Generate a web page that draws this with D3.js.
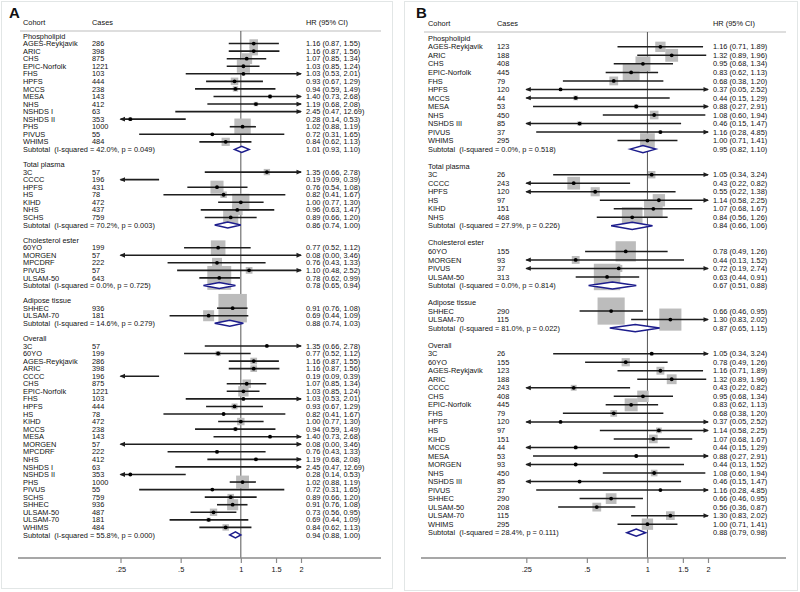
<!DOCTYPE html>
<html>
<head>
<meta charset="utf-8">
<script src="https://cdn.jsdelivr.net/npm/d3@7"></script>
<style>
  html, body { margin: 0; padding: 0; background: #fff; }
  svg { display: block; }
  text { font-family: "Liberation Sans", Arial, sans-serif; fill: #111; }
</style>
</head>
<body>
<svg id="chart" width="800" height="592"></svg>
<script>
// ---------------- DATA ----------------
const headers = ["Cohort", "Cases", "HR (95% CI)"];
const tickValues = [0.25, 0.5, 1, 1.5, 2];
const tickLabels = [".25", ".5", "1", "1.5", "2"];

// Panel A
const aGroupNames = ["Phospholipid", "Total plasma", "Cholesterol ester", "Adipose tissue", "Overall"];
const aGroupSizes = [14, 7, 5, 2, 25];
const aCohorts = [
  "AGES-Reykjavik","ARIC","CHS","EPIC-Norfolk","FHS","HPFS","MCCS","MESA","NHS","NSHDS I","NSHDS II","PHS","PIVUS","WHIMS",
  "3C","CCCC","HPFS","HS","KIHD","NHS","SCHS",
  "60YO","MORGEN","MPCDRF","PIVUS","ULSAM-50",
  "SHHEC","ULSAM-70",
  "3C","60YO","AGES-Reykjavik","ARIC","CCCC","CHS","EPIC-Norfolk","FHS","HPFS","HS","KIHD","MCCS","MESA","MORGEN","MPCDRF","NHS","NSHDS I","NSHDS II","PHS","PIVUS","SCHS","SHHEC","ULSAM-50","ULSAM-70","WHIMS"];
const aCases = [
  286,398,875,1221,103,444,238,143,412,63,353,1000,55,484,
  57,196,431,78,472,437,759,
  199,57,222,57,643,
  936,181,
  57,199,286,398,196,875,1221,103,444,78,472,238,143,57,222,412,63,353,1000,55,759,936,487,181,484];
const aHR = [
  1.16,1.16,1.07,1.03,1.03,0.93,0.94,1.40,1.19,2.45,0.28,1.02,0.72,0.84,
  1.35,0.19,0.76,0.82,1.00,0.96,0.89,
  0.77,0.08,0.76,1.10,0.78,
  0.91,0.69,
  1.35,0.77,1.16,1.16,0.19,1.07,1.03,1.03,0.93,0.82,1.00,0.94,1.40,0.08,0.76,1.19,2.45,0.28,1.02,0.72,0.89,0.91,0.73,0.69,0.84];
const aLower = [
  0.87,0.87,0.85,0.85,0.53,0.67,0.59,0.73,0.68,0.47,0.14,0.88,0.31,0.62,
  0.66,0.09,0.54,0.41,0.77,0.63,0.66,
  0.52,0.00,0.43,0.48,0.62,
  0.76,0.44,
  0.66,0.52,0.87,0.87,0.09,0.85,0.85,0.53,0.67,0.41,0.77,0.59,0.73,0.00,0.43,0.68,0.47,0.14,0.88,0.31,0.66,0.76,0.56,0.44,0.62];
const aUpper = [
  1.55,1.56,1.34,1.24,2.01,1.29,1.49,2.68,2.08,12.69,0.53,1.19,1.65,1.13,
  2.78,0.39,1.08,1.67,1.30,1.47,1.20,
  1.12,3.46,1.33,2.52,0.99,
  1.08,1.09,
  2.78,1.12,1.55,1.56,0.39,1.34,1.24,2.01,1.29,1.67,1.30,1.49,2.68,3.46,1.33,2.08,12.69,0.53,1.19,1.65,1.20,1.08,0.95,1.09,1.13];
const aWeight = [
  7.9,7.7,12.7,18.5,1.5,6.1,3.1,1.6,2.1,0.2,1.5,28.9,0.9,7.3,
  4.3,4.1,18.3,4.5,32.0,12.2,24.6,
  22.9,0.1,10.6,4.9,61.5,
  87,13,
  0.8,2.8,4.9,4.8,0.8,7.9,11.4,0.9,3.8,0.8,5.9,1.9,1.0,0.01,1.3,1.3,0.1,0.9,17.9,0.6,4.6,13.2,5.8,2.0,4.5];
const aSubI2 = ["42.0%", "70.2%", "0.0%", "14.6%", "55.8%"];
const aSubP = ["0.049", "0.003", "0.725", "0.279", "0.000"];
const aSubHR = [1.01, 0.86, 0.78, 0.88, 0.94];
const aSubLower = [0.93, 0.74, 0.65, 0.74, 0.88];
const aSubUpper = [1.10, 1.00, 0.94, 1.03, 1.00];

// Panel B
const bGroupNames = ["Phospholipid", "Total plasma", "Cholesterol ester", "Adipose tissue", "Overall"];
const bGroupSizes = [12, 6, 4, 2, 21];
const bCohorts = [
  "AGES-Reykjavik","ARIC","CHS","EPIC-Norfolk","FHS","HPFS","MCCS","MESA","NHS","NSHDS III","PIVUS","WHIMS",
  "3C","CCCC","HPFS","HS","KIHD","NHS",
  "60YO","MORGEN","PIVUS","ULSAM-50",
  "SHHEC","ULSAM-70",
  "3C","60YO","AGES-Reykjavik","ARIC","CCCC","CHS","EPIC-Norfolk","FHS","HPFS","HS","KIHD","MCCS","MESA","MORGEN","NHS","NSHDS III","PIVUS","SHHEC","ULSAM-50","ULSAM-70","WHIMS"];
const bCases = [
  123,188,408,445,79,120,44,53,450,85,37,295,
  26,243,120,97,151,468,
  155,93,37,313,
  290,115,
  26,155,123,188,243,408,445,79,120,97,151,44,53,93,450,85,37,290,208,115,295];
const bHR = [
  1.16,1.32,0.95,0.83,0.68,0.37,0.44,0.88,1.08,0.46,1.16,1.00,
  1.05,0.43,0.55,1.14,1.07,0.84,
  0.78,0.44,0.72,0.63,
  0.66,1.30,
  1.05,0.78,1.16,1.32,0.43,0.95,0.83,0.68,0.37,1.14,1.07,0.44,0.88,0.44,1.08,0.46,1.16,0.66,0.56,1.30,1.00];
const bLower = [
  0.71,0.89,0.68,0.62,0.38,0.05,0.15,0.27,0.60,0.15,0.28,0.71,
  0.34,0.22,0.22,0.58,0.68,0.56,
  0.49,0.13,0.19,0.44,
  0.46,0.83,
  0.34,0.49,0.71,0.89,0.22,0.68,0.62,0.38,0.05,0.58,0.68,0.15,0.27,0.13,0.60,0.15,0.28,0.46,0.36,0.83,0.71];
const bUpper = [
  1.89,1.96,1.34,1.13,1.20,2.52,1.29,2.91,1.94,1.47,4.85,1.41,
  3.24,0.82,1.38,2.25,1.67,1.26,
  1.26,1.52,2.74,0.91,
  0.95,2.02,
  3.24,1.26,1.89,1.96,0.82,1.34,1.13,1.20,2.52,2.25,1.67,1.29,2.91,1.52,1.94,1.47,4.85,0.95,0.87,2.02,1.41];
const bWeight = [
  8.7,13.4,18.2,23.2,6.3,0.5,1.8,1.5,6.1,1.6,1.0,17.7,
  4.5,13.2,6.8,12.4,28.3,34.8,
  33.7,5.0,4.2,57.1,
  60.1,39.9,
  1.0,5.5,5.1,7.9,2.8,10.7,13.7,3.7,0.3,2.7,6.1,1.1,0.9,0.8,3.6,0.9,0.6,9.4,6.3,6.2,10.5];
const bSubI2 = ["0.0%", "27.9%", "0.0%", "81.0%", "28.4%"];
const bSubP = ["0.518", "0.226", "0.814", "0.022", "0.111"];
const bSubHR = [0.95, 0.84, 0.67, 0.87, 0.88];
const bSubLower = [0.82, 0.66, 0.51, 0.65, 0.79];
const bSubUpper = [1.10, 1.06, 0.88, 1.15, 0.98];

// ---------------- LAYOUT ----------------
const layoutA = {
  letter: "A", letterX: 9, letterY: 18, border: [1, 1, 392, 588],
  nameX: 23, casesX: 92, hrX: 306, range: [120.5, 301],
  y0: 36, step: 7.56, headerY: 22, headerLineY: 31, headerLineX: [20, 381],
  axisY: 558, axisX: [18, 381], boxK: 3.05, diamondH: 3, fontSize: 7.4, lineW: 1.6
};
const layoutB = {
  letter: "B", letterX: 416, letterY: 18, border: [404, 1, 797, 590],
  nameX: 428, casesX: 497, hrX: 713, range: [526.3, 708],
  y0: 38.3, step: 8.524, headerY: 23, headerLineY: 32, headerLineX: [424, 786],
  axisY: 558, axisX: [421, 786], boxK: 3.5, diamondH: 3.6, fontSize: 7.4, lineW: 1.5
};

const svg = d3.select("#chart");
const fmt = d3.format(".2f");
const hrText = (h, l, u) => `${fmt(h)} (${fmt(l)}, ${fmt(u)})`;

function buildRows(g) {
  const rows = [];
  let k = 0;
  g.groupNames.forEach((gn, gi) => {
    rows.push({ type: "head", label: gn });
    for (let j = 0; j < g.groupSizes[gi]; j++, k++) {
      rows.push({ type: "study", name: g.cohorts[k], cases: g.cases[k], hr: g.hr[k], lo: g.lo[k], hi: g.hi[k], w: g.w[k] });
    }
    rows.push({ type: "sub", label: `Subtotal  (I-squared = ${g.subI2[gi]}, p = ${g.subP[gi]})`,
      hr: g.subHR[gi], lo: g.subLo[gi], hi: g.subHi[gi] });
    if (gi < g.groupNames.length - 1) rows.push({ type: "blank" });
  });
  return rows;
}

function drawPanel(data, L) {
  const g = svg.append("g");
  const [bx1, by1, bx2, by2] = L.border;
  g.append("rect").attr("x", bx1 + 0.5).attr("y", by1 + 0.5)
    .attr("width", bx2 - bx1).attr("height", by2 - by1)
    .attr("fill", "none").attr("stroke", "#e2e6e6").attr("stroke-width", 1);

  g.append("text").attr("x", L.letterX).attr("y", L.letterY)
    .attr("font-size", 15).attr("font-weight", "bold").attr("fill", "#000").text(L.letter);

  const x = d3.scaleLog().domain([tickValues[0], tickValues[tickValues.length - 1]]).range(L.range);
  const [dmin, dmax] = x.domain();
  const rows = buildRows(data);
  const y = i => L.y0 + i * L.step;

  // header
  const hx = [L.nameX, L.casesX, L.hrX];
  headers.forEach((h, i) => {
    g.append("text").attr("x", hx[i]).attr("y", L.headerY).attr("dy", "0.35em")
      .attr("font-size", L.fontSize).text(h);
  });
  g.append("line").attr("x1", L.headerLineX[0]).attr("x2", L.headerLineX[1])
    .attr("y1", L.headerLineY).attr("y2", L.headerLineY)
    .attr("stroke", "#dedede").attr("stroke-width", 2);

  // null line
  g.append("line").attr("x1", x(1)).attr("x2", x(1))
    .attr("y1", L.headerLineY).attr("y2", L.axisY)
    .attr("stroke", "#555").attr("stroke-width", 1);

  // axis
  const axisG = g.append("g").attr("transform", `translate(0,${L.axisY})`);
  axisG.append("line").attr("x1", L.axisX[0]).attr("x2", L.axisX[1])
    .attr("stroke", "#8a8a8a").attr("stroke-width", 1.3);
  const axis = d3.axisBottom(x).tickValues(tickValues)
    .tickFormat((d, i) => tickLabels[i]).tickSize(5).tickPadding(4);
  const ax = axisG.append("g").call(axis);
  ax.select(".domain").remove();
  ax.selectAll(".tick line").attr("stroke", "#8a8a8a").attr("stroke-width", 1.2);
  ax.selectAll(".tick text").attr("font-size", L.fontSize).attr("fill", "#111")
    .attr("font-family", "Liberation Sans, Arial, sans-serif");

  // boxes
  rows.forEach((r, i) => {
    if (r.type !== "study") return;
    if (r.hr < dmin || r.hr > dmax) return;
    const s = L.boxK * Math.sqrt(r.w);
    g.append("rect").attr("x", x(r.hr) - s / 2).attr("y", y(i) - s / 2)
      .attr("width", s).attr("height", s).attr("fill", "#bcbcbc");
  });

  // CI lines, arrows, points
  rows.forEach((r, i) => {
    if (r.type !== "study") return;
    const yy = y(i);
    const lo = Math.max(r.lo, dmin), hi = Math.min(r.hi, dmax);
    const x1 = x(lo), x2 = x(hi);
    g.append("line").attr("x1", x1).attr("x2", x2).attr("y1", yy).attr("y2", yy)
      .attr("stroke", "#1e1e1e").attr("stroke-width", L.lineW);
    if (r.lo < dmin) {
      g.append("path").attr("d", `M${x1 - 1},${yy} L${x1 + 4.5},${yy - 2.4} L${x1 + 4.5},${yy + 2.4} Z`).attr("fill", "#1e1e1e");
    }
    if (r.hi > dmax) {
      g.append("path").attr("d", `M${x2 + 1},${yy} L${x2 - 4.5},${yy - 2.4} L${x2 - 4.5},${yy + 2.4} Z`).attr("fill", "#1e1e1e");
    }
    if (r.hr >= dmin && r.hr <= dmax) {
      g.append("circle").attr("cx", x(r.hr)).attr("cy", yy).attr("r", 1.9).attr("fill", "#000");
    }
  });

  // diamonds
  rows.forEach((r, i) => {
    if (r.type !== "sub") return;
    const yy = y(i), h = L.diamondH;
    g.append("path")
      .attr("d", `M${x(r.lo)},${yy} L${x(r.hr)},${yy - h} L${x(r.hi)},${yy} L${x(r.hr)},${yy + h} Z`)
      .attr("fill", "#fff").attr("stroke", "#1c1c8c").attr("stroke-width", 1.5);
  });

  // texts
  rows.forEach((r, i) => {
    const yy = y(i);
    if (r.type === "head") {
      g.append("text").attr("x", L.nameX).attr("y", yy).attr("dy", "0.35em")
        .attr("font-size", L.fontSize).text(r.label);
    } else if (r.type === "study") {
      g.append("text").attr("x", L.nameX).attr("y", yy).attr("dy", "0.35em")
        .attr("font-size", L.fontSize).text(r.name);
      g.append("text").attr("x", L.casesX).attr("y", yy).attr("dy", "0.35em")
        .attr("font-size", L.fontSize).text(r.cases);
      g.append("text").attr("x", L.hrX).attr("y", yy).attr("dy", "0.35em")
        .attr("font-size", L.fontSize).text(hrText(r.hr, r.lo, r.hi));
    } else if (r.type === "sub") {
      g.append("text").attr("x", L.nameX).attr("y", yy).attr("dy", "0.35em")
        .attr("font-size", L.fontSize).attr("xml:space", "preserve").style("white-space", "pre").text(r.label);
      g.append("text").attr("x", L.hrX).attr("y", yy).attr("dy", "0.35em")
        .attr("font-size", L.fontSize).text(hrText(r.hr, r.lo, r.hi));
    }
  });
}

drawPanel({
  groupNames: aGroupNames, groupSizes: aGroupSizes, cohorts: aCohorts, cases: aCases,
  hr: aHR, lo: aLower, hi: aUpper, w: aWeight,
  subI2: aSubI2, subP: aSubP, subHR: aSubHR, subLo: aSubLower, subHi: aSubUpper
}, layoutA);

drawPanel({
  groupNames: bGroupNames, groupSizes: bGroupSizes, cohorts: bCohorts, cases: bCases,
  hr: bHR, lo: bLower, hi: bUpper, w: bWeight,
  subI2: bSubI2, subP: bSubP, subHR: bSubHR, subLo: bSubLower, subHi: bSubUpper
}, layoutB);
</script>
</body>
</html>
